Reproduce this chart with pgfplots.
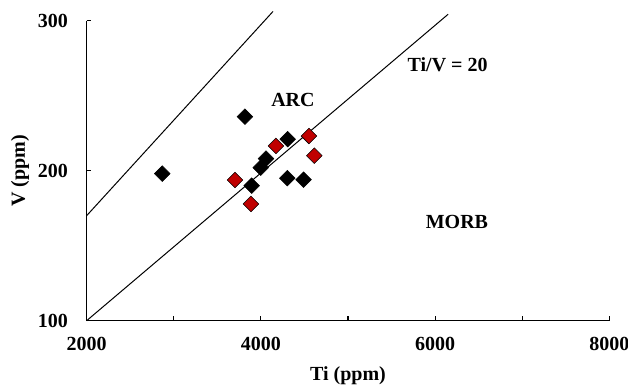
\documentclass[border=0pt]{standalone}
\usepackage{fontspec}
\setmainfont{Liberation Serif}
\usepackage{pgfplots}
\pgfplotsset{compat=1.18}
\definecolor{samplered}{HTML}{C00000}
\begin{document}
\begin{tikzpicture}[font=\fontsize{15}{18}\selectfont\bfseries]
\begin{axis}[
  at={(0,0)}, anchor=south west,
  scale only axis, width=392pt, height=225pt,
  xmin=2000, xmax=8000, ymin=100, ymax=300,
  axis x line*=bottom, axis y line*=left,
  axis line style={line width=0.9pt},
  xtick={2000,4000,6000,8000},
  minor xtick={3000,5000,7000},
  ytick={100,200,300},
  tick align=inside,
  major tick length=3.5pt, minor tick length=3.5pt,
  every tick/.style={black, line width=0.9pt},
  /pgf/number format/assume math mode=true,
  /pgf/number format/1000 sep={},
  yticklabel style={xshift=-10.5pt},
  xticklabel style={yshift=-9pt},
  xlabel={Ti (ppm)},
  ylabel={V (ppm)},
  xlabel style={at={(rel axis cs:0.5,0)}, anchor=base, yshift=-44.5pt},
  ylabel style={at={([xshift=-46.3pt]rel axis cs:0,0.5)}, anchor=base},
  clip=false,
]
% discrimination lines
\addplot[black, line width=0.75pt] coordinates {(2000,170) (4140,306.2)};
\addplot[black, line width=0.75pt] coordinates {(2000,100) (6150,304.3)};

% samples
\addplot[only marks, mark=square*, mark size=4.15pt,
  mark options={rotate=45, fill=black, draw=none}] coordinates {
  (2868,198) (3817,236) (4307,221) (4059,208) (3998,202)
  (3894,190) (4303,195) (4490,194)
};
\addplot[only marks, mark=square*, mark size=4.15pt,
  mark options={rotate=45, fill=samplered, draw=none}] coordinates {
  (3703,193.8) (3886,177.8) (4173,216.5) (4552,223.1) (4613,210)
};

\node at (axis cs:4368,247.1) {ARC};
\node at (axis cs:6144,270.5) {Ti/V = 20};
\node at (axis cs:6251,165.8) {MORB};
\end{axis}
\pgfresetboundingbox
\useasboundingbox (-65pt,-49.7pt) rectangle (406pt,240.5pt);
\end{tikzpicture}
\end{document}
